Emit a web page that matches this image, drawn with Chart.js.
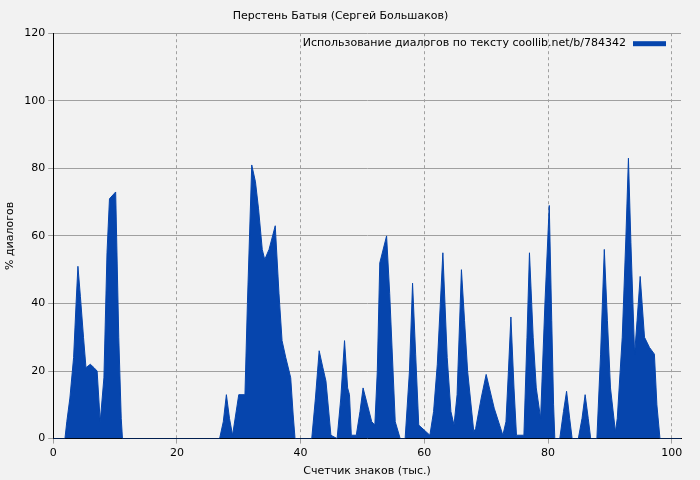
<!DOCTYPE html>
<html>
<head>
<meta charset="utf-8">
<script src="https://cdn.jsdelivr.net/npm/chart.js@4"></script>
<style>
  body { margin: 0; background: #f2f2f2; }
  #wrap { width: 700px; height: 480px; }
</style>
</head>
<body>
<div id="wrap"><canvas id="chartDlg"></canvas></div>
<script>
// 데이터: 문자 수(천) / 대화 비율(%)
const xs = [0, 1.9, 2.2, 2.7, 3.3, 3.7, 4.0, 4.4, 4.9, 5.3, 6.0, 6.6, 7.1, 7.6, 8.2, 8.7, 9.1, 10.1, 10.6, 11.0, 11.2,
  26.9, 27.5, 28.0, 28.5, 29.0, 30.0, 31.0, 31.4, 32.1, 32.7, 33.2, 33.8, 34.2, 34.9, 35.9, 36.5, 37.0, 37.6, 38.4, 38.8, 39.1,
  41.8, 42.4, 43.0, 43.6, 44.1, 44.9, 45.9, 46.5, 47.1, 47.6, 47.9, 48.2, 49.0, 49.6, 50.1, 50.8, 51.5, 52.0, 52.4, 52.8, 53.9, 54.4, 55.3, 56.1,
  56.9, 57.6, 58.1, 58.6, 59.1, 60.9, 61.5, 62.1, 63.0, 63.7, 64.3, 64.8, 65.3, 66.0, 66.5, 67.0, 68.0, 68.3, 69.2, 70.0, 71.3, 72.7, 73.2, 73.6, 74.0, 74.5, 74.9,
  76.1, 76.6, 77.0, 77.6, 78.1, 78.8, 79.5, 80.2, 80.6, 80.9, 81.1,
  81.9, 82.5, 83.0, 83.5, 83.9, 84.9, 85.5, 86.0, 86.5, 86.9, 87.9, 88.5, 89.1, 89.6, 90.1, 90.9, 91.2, 92.0, 92.6, 93.0, 93.4, 94.0, 94.4, 94.9, 95.6, 96.4, 97.2, 97.6, 98.1, 101.5];
const pct = [0, 0, 5, 12, 24, 40, 51, 42, 30, 21, 22, 21, 20, 5, 18, 55, 71, 73, 30, 6, 0,
  0, 5, 13, 6, 1, 13, 13, 40, 81, 76, 68, 56, 53, 56, 63, 43, 29, 24, 18, 7, 0,
  0, 12, 26, 21, 17, 1, 0, 12, 29, 15, 13, 1, 1, 8, 15, 10, 5, 4, 20, 52, 60, 43, 5, 0,
  0, 20, 46, 25, 4, 1, 8, 22, 55, 24, 8, 4, 13, 50, 35, 20, 2, 3, 12, 19, 9, 1, 5, 20, 36, 15, 1,
  1, 30, 55, 30, 15, 6, 40, 69, 35, 10, 0,
  0, 8, 14, 6, 0, 0, 6, 13, 6, 0, 0, 25, 56, 35, 15, 2, 6, 30, 60, 83, 58, 25, 35, 48, 30, 27, 25, 10, 0, 0];
const xTicks = [0, 20, 40, 60, 80, 100];
const yTicks = [0, 20, 40, 60, 80, 100, 120];

const titleText = "Перстень Батыя (Сергей Большаков)";
const legendText = "Использование диалогов по тексту coollib.net/b/784342";
const blue = "#0645ad";
const FONT = "'DejaVu Sans', sans-serif";

// 범례를 차트 안쪽 오른쪽 위에 그림
const insideLegend = {
  id: "insideLegend",
  afterDraw(chart) {
    const c = chart.ctx, a = chart.chartArea;
    c.save();
    c.font = "11px " + FONT;
    c.fillStyle = "#000";
    c.textAlign = "right";
    c.textBaseline = "middle";
    c.fillText(legendText, a.right - 55, a.top + 10);
    c.fillStyle = blue;
    c.fillRect(a.right - 48, a.top + 8, 33, 5);
    c.restore();
  }
};

new Chart(document.getElementById("chartDlg"), {
  type: "line",
  data: {
    datasets: [{
      label: legendText,
      data: xs.map((x, i) => ({ x, y: pct[i] })),
      borderColor: blue,
      backgroundColor: blue,
      borderWidth: 1,
      pointRadius: 0,
      tension: 0,
      fill: "origin"
    }]
  },
  options: {
    responsive: true,
    maintainAspectRatio: false,
    animation: false,
    layout: { padding: { left: 0, right: 19, top: 0, bottom: 0 } },
    plugins: {
      legend: { display: false },
      tooltip: { enabled: false },
      title: {
        display: true, text: titleText, color: "#000",
        font: { family: FONT, size: 11, weight: "normal" },
        padding: { top: 10, bottom: 10 }
      }
    },
    scales: {
      x: {
        type: "linear", min: 0, max: 101.5,
        afterBuildTicks: s => { s.ticks = xTicks.map(v => ({ value: v })); },
        grid: { color: "#a0a0a0", borderDash: [3, 3], drawTicks: true, tickLength: 5 },
        border: { color: "#000", dash: [3, 3] },
        ticks: { color: "#000", font: { family: FONT, size: 11 }, maxRotation: 0 },
        title: { display: true, text: "Счетчик знаков (тыс.)", color: "#000", font: { family: FONT, size: 11 }, padding: 2 }
      },
      y: {
        min: 0, max: 120,
        afterBuildTicks: s => { s.ticks = yTicks.map(v => ({ value: v })); },
        grid: { color: "#a0a0a0", tickLength: 5 },
        border: { color: "#000" },
        ticks: { color: "#000", font: { family: FONT, size: 11 } },
        title: { display: true, text: "% диалогов", color: "#000", font: { family: FONT, size: 11 }, padding: 4 }
      }
    }
  },
  plugins: [insideLegend, {
    id: "dashGrid",
    beforeDraw(chart) {
      chart.options.scales.x.grid.borderDash = [3, 3];
    }
  }]
});
</script>
</body>
</html>
